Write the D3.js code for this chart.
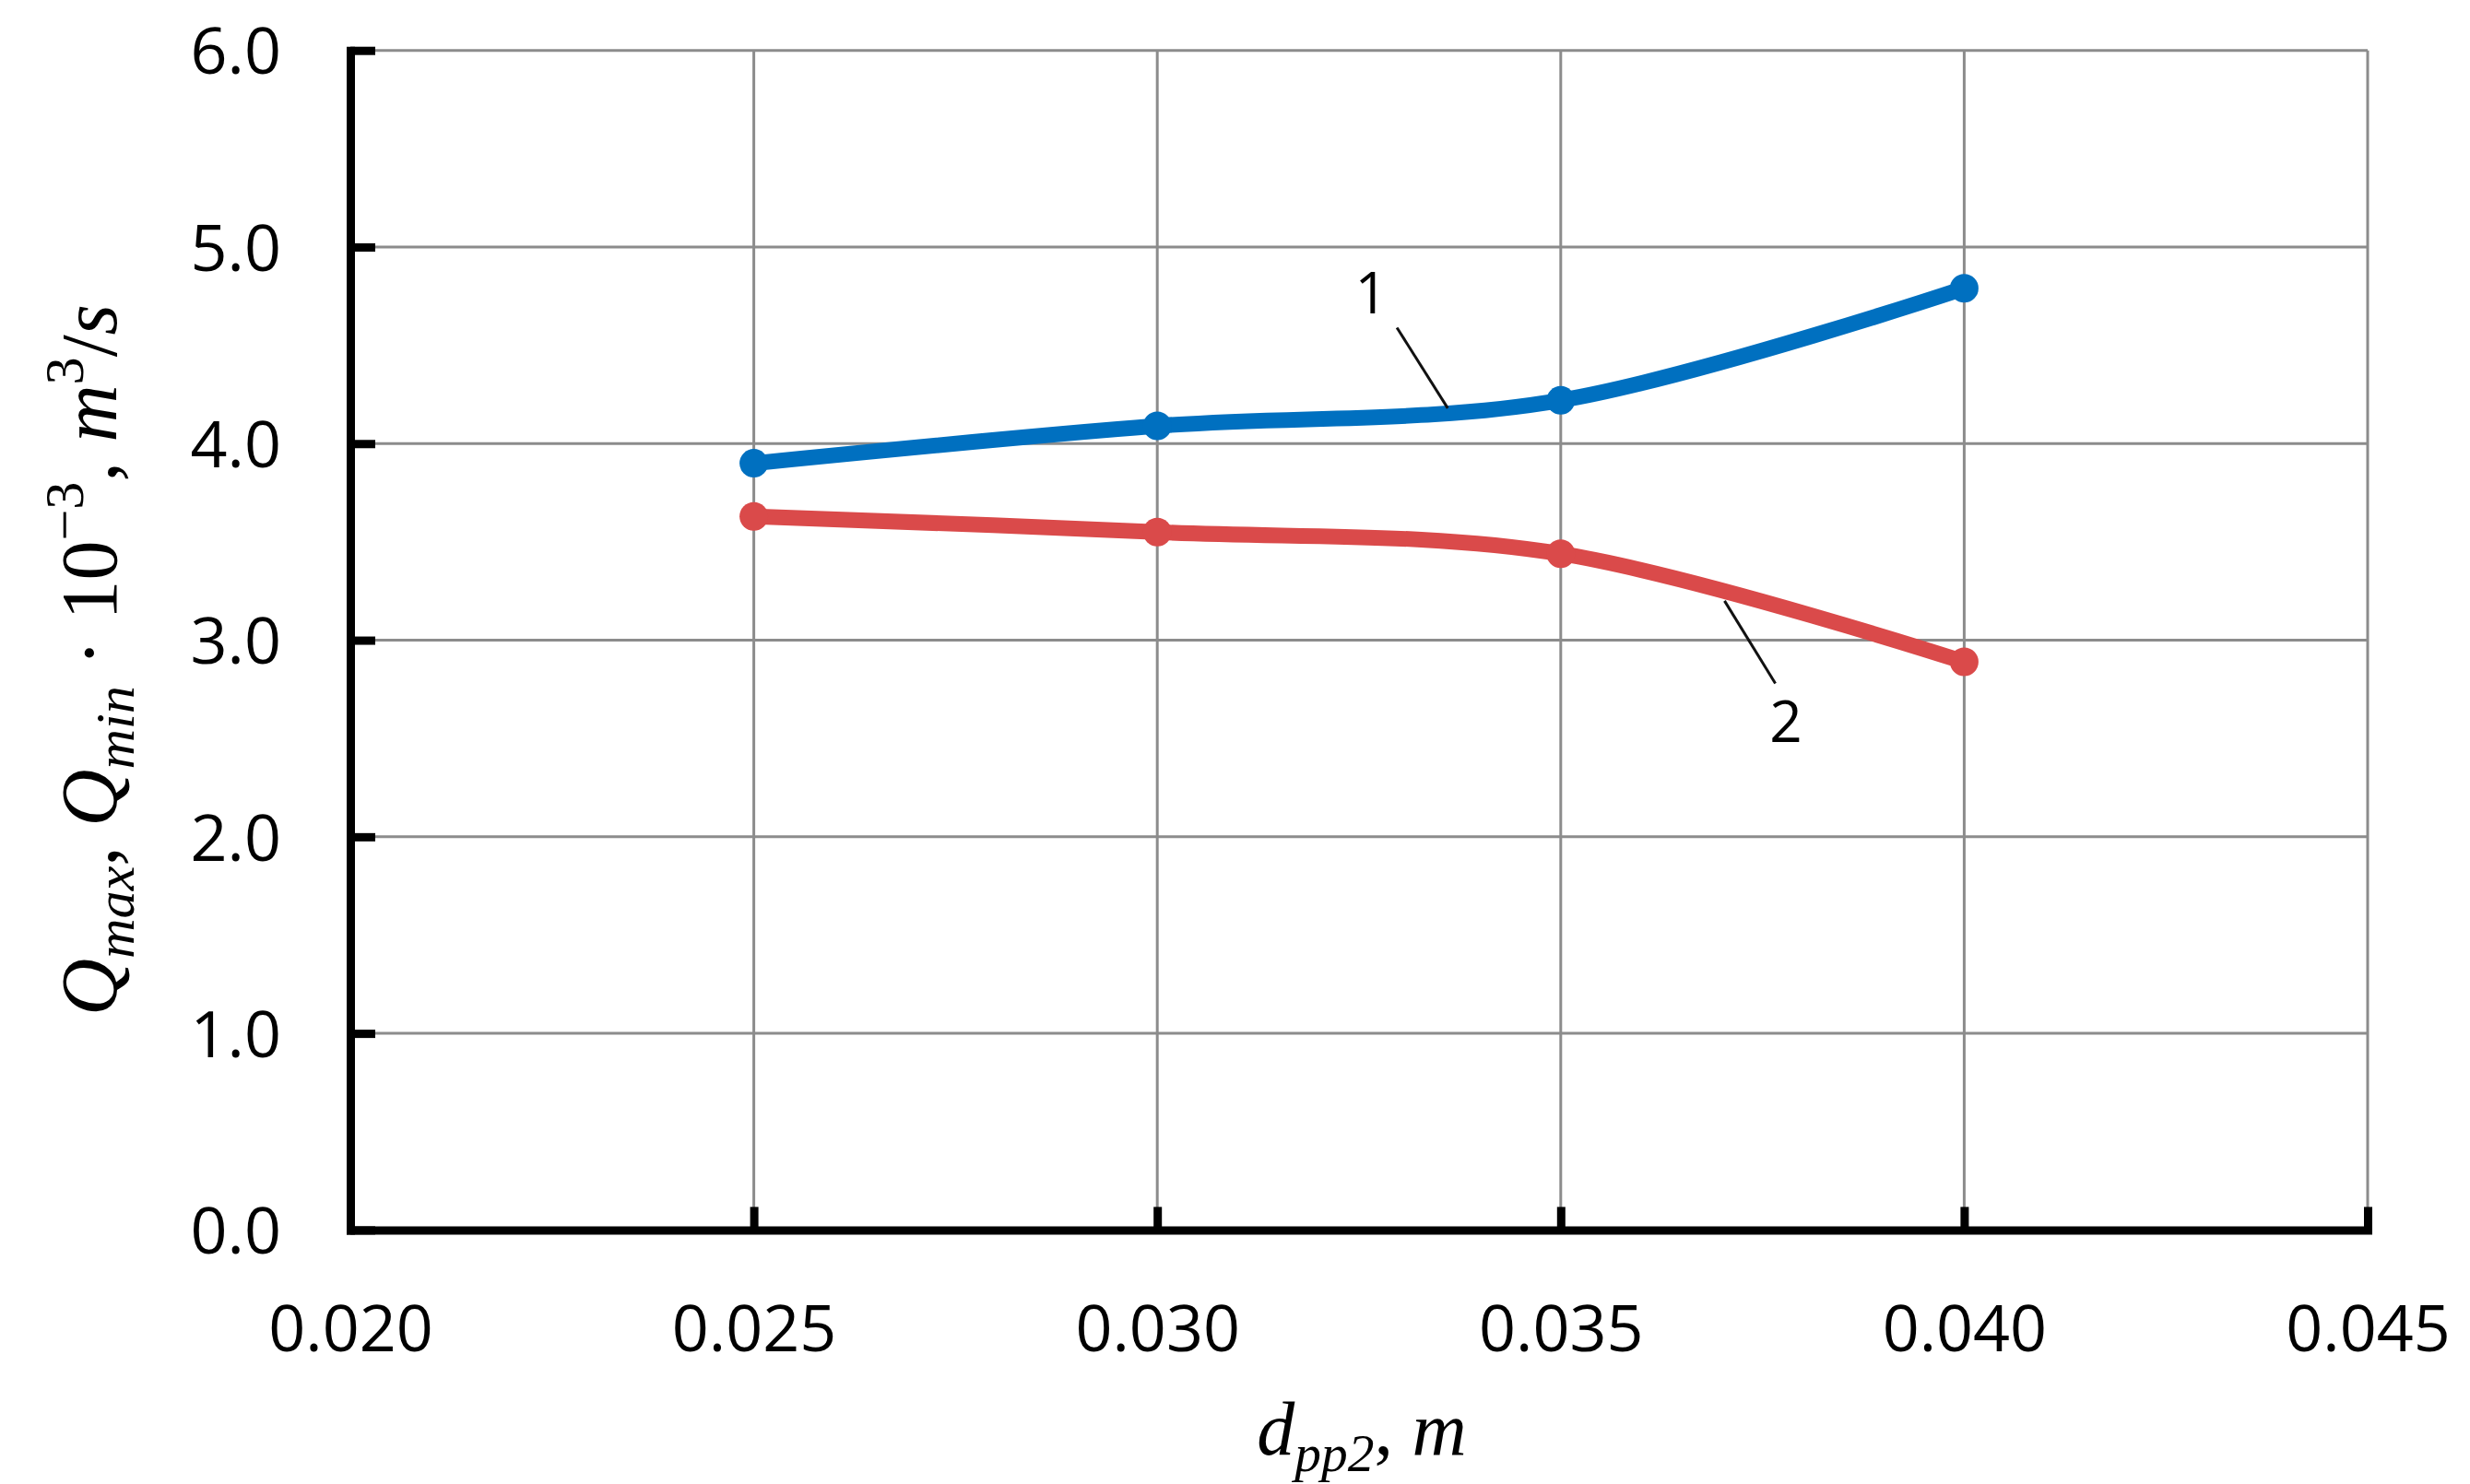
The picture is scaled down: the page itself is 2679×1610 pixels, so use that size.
<!DOCTYPE html>
<html>
<head>
<meta charset="utf-8">
<script src="https://cdn.jsdelivr.net/npm/d3@7"></script>
<style>
  html, body { margin: 0; padding: 0; background: #fff; }
  svg { display: block; }
</style>
</head>
<body>
<svg id="chart" width="2679" height="1610"></svg>
<script>
// ---- data ----
const xTicks = [0.020, 0.025, 0.030, 0.035, 0.040, 0.045];
const yTicks = [0, 1, 2, 3, 4, 5, 6];
const dpp2 = [0.025, 0.030, 0.035, 0.040];
const qMax = [3.90, 4.09, 4.22, 4.79];
const qMin = [3.63, 3.55, 3.44, 2.89];
const curveNames = ["1", "2"];
// annotation positions in data units: label, leader start, leader end
const labelX = [0.03265, 0.03779];
const labelY = [4.66, 2.48];
const leaderX1 = [0.03297, 0.03703];
const leaderY1 = [4.59, 3.20];
const leaderX2 = [0.03360, 0.03766];
const leaderY2 = [4.18, 2.78];

// ---- layout ----
const W = 2679, H = 1610;
const margin = { left: 380, right: 111, top: 54.7, bottom: 275.6 };
const svg = d3.select("#chart");
svg.append("rect").attr("width", W).attr("height", H).attr("fill", "#fff");

const x = d3.scaleLinear().domain([0.020, 0.045]).range([margin.left, W - margin.right]);
const y = d3.scaleLinear().domain([0, 6]).range([H - margin.bottom, margin.top]);

const gridColor = "#8c8c8c";
// gridlines
const grid = svg.append("g");
grid.selectAll("line.h").data(yTicks.filter(d => d > 0)).join("line")
  .attr("x1", x(0.020)).attr("x2", x(0.045))
  .attr("y1", d => y(d)).attr("y2", d => y(d))
  .attr("stroke", gridColor).attr("stroke-width", 3);
grid.selectAll("line.v").data(xTicks.filter(d => d > 0.0201)).join("line")
  .attr("x1", d => x(d)).attr("x2", d => x(d))
  .attr("y1", y(0)).attr("y2", y(6))
  .attr("stroke", gridColor).attr("stroke-width", 3);

// axes
const tickFont = "'Open Sans', 'Noto Sans', sans-serif";
const yAxis = d3.axisLeft(y).tickValues(yTicks).tickFormat(d3.format(".1f"))
  .tickSizeInner(-27).tickSizeOuter(0).tickPadding(75);
const xAxis = d3.axisBottom(x).tickValues(xTicks).tickFormat(d3.format(".3f"))
  .tickSizeInner(-25).tickSizeOuter(0).tickPadding(82);

const gy = svg.append("g").attr("transform", `translate(${x(0.020)},0)`).call(yAxis);
const gx = svg.append("g").attr("transform", `translate(0,${y(0)})`).call(xAxis);
[gy, gx].forEach(g => {
  g.select(".domain").attr("stroke", "#000").attr("stroke-width", 9).attr("stroke-linecap", "square");
  g.selectAll(".tick line").attr("stroke", "#000").attr("stroke-width", 9);
  g.selectAll(".tick text").attr("fill", "#000").attr("font-family", tickFont).attr("font-size", 70);
});
gy.selectAll(".tick text").attr("dy", "0.36em");

// lines
const line = d3.line().x(d => x(d[0])).y(d => y(d[1])).curve(d3.curveCatmullRom.alpha(0));
const series = [
  { vals: qMax, color: "#0070C0" },
  { vals: qMin, color: "#DA4A4A" }
];
series.forEach(s => {
  const pts = dpp2.map((d, i) => [d, s.vals[i]]);
  svg.append("path").attr("d", line(pts)).attr("fill", "none")
    .attr("stroke", s.color).attr("stroke-width", 17).attr("stroke-linejoin", "round");
  svg.append("g").selectAll("circle").data(pts).join("circle")
    .attr("cx", d => x(d[0])).attr("cy", d => y(d[1])).attr("r", 15.5).attr("fill", s.color);
});

// annotations
curveNames.forEach((n, i) => {
  svg.append("line")
    .attr("x1", x(leaderX1[i])).attr("y1", y(leaderY1[i]))
    .attr("x2", x(leaderX2[i])).attr("y2", y(leaderY2[i]))
    .attr("stroke", "#111").attr("stroke-width", 3);
  svg.append("text").attr("x", x(labelX[i])).attr("y", y(labelY[i]))
    .attr("text-anchor", "middle").attr("font-family", tickFont).attr("font-size", 62)
    .attr("fill", "#000").text(n);
});

// axis titles
const mathFont = "'Liberation Serif', 'DejaVu Serif', serif";
function addParts(t, parts, F) {
  let cur = 0;
  parts.forEach(p => {
    const target = p.pos === "sub" ? 0.22 * F : p.pos === "sup" ? -0.42 * F : 0;
    t.append("tspan").text(p.t)
      .attr("font-size", p.pos ? 0.7 * F : F)
      .attr("font-style", p.it ? "italic" : "normal")
      .attr("dy", target - cur);
    cur = target;
  });
}
const FY = 86;
const yTitle = svg.append("text")
  .attr("transform", `translate(126,716) rotate(-90)`)
  .attr("text-anchor", "middle").attr("font-family", mathFont).attr("fill", "#000");
addParts(yTitle, [
  { t: "Q", it: true }, { t: "max", it: true, pos: "sub" }, { t: ", " },
  { t: "Q", it: true }, { t: "min", it: true, pos: "sub" }, { t: " · 10" },
  { t: "−3", pos: "sup" }, { t: ", " }, { t: "m", it: true }, { t: "3", pos: "sup" },
  { t: "/" }, { t: "s", it: true }
], FY);

const FX = 82;
const xTitle = svg.append("text")
  .attr("x", 1477).attr("y", 1578)
  .attr("text-anchor", "middle").attr("font-family", mathFont).attr("fill", "#000");
addParts(xTitle, [
  { t: "d", it: true }, { t: "pp2", it: true, pos: "sub" }, { t: ", " }, { t: "m", it: true }
], FX);
</script>
</body>
</html>
